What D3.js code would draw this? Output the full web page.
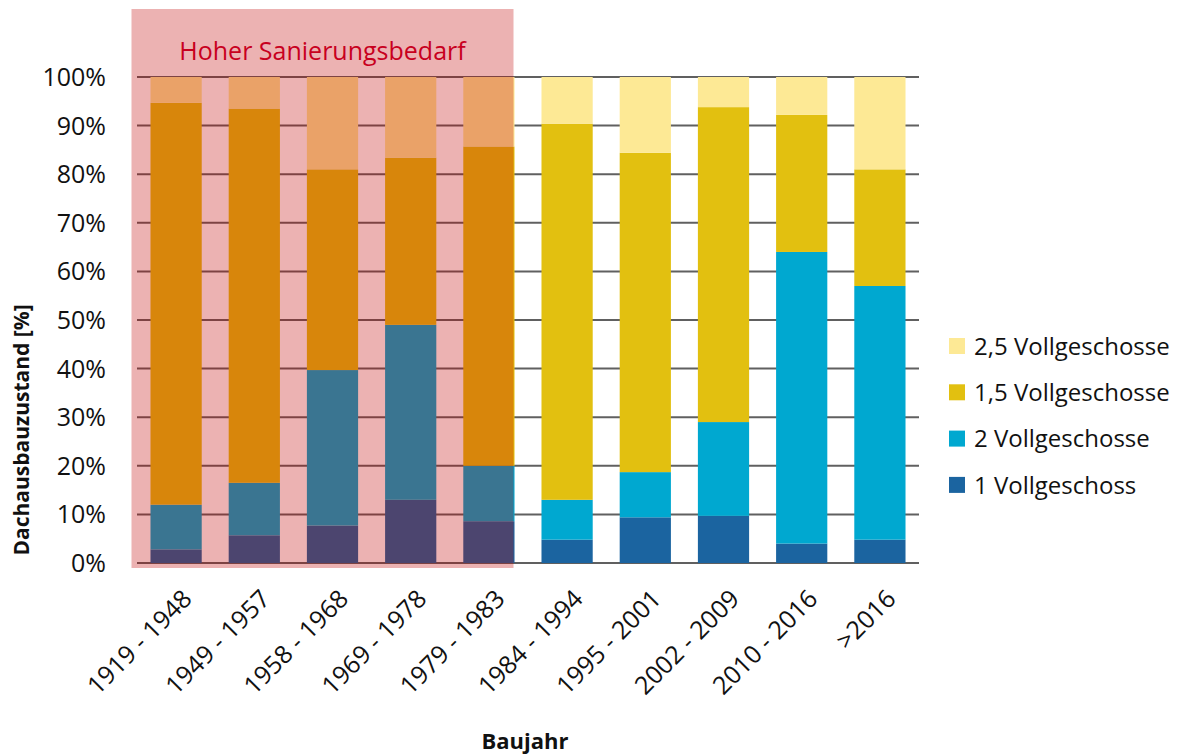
<!DOCTYPE html>
<html>
<head>
<meta charset="utf-8">
<script src="https://cdn.jsdelivr.net/npm/d3@7"></script>
<style>
  body { margin: 0; background: #fff; }
  svg { font-family: "Open Sans", sans-serif; }
</style>
</head>
<body>
<div id="chart"></div>
<script>
// Baujahr classes
const categories = ["1919 - 1948", "1949 - 1957", "1958 - 1968", "1969 - 1978", "1979 - 1983",
                    "1984 - 1994", "1995 - 2001", "2002 - 2009", "2010 - 2016", ">2016"];

// shares in % per class
const vg1  = [2.8, 5.7, 7.7, 13.0, 8.6, 4.8, 9.4, 9.7, 4.0, 4.8];
const vg2  = [9.2, 10.8, 32.0, 36.0, 11.4, 8.2, 9.3, 19.3, 60.0, 52.2];
const vg15 = [82.7, 77.0, 41.3, 34.4, 65.7, 77.4, 65.7, 64.8, 28.2, 24.0];
const vg25 = [5.3, 6.5, 19.0, 16.6, 14.3, 9.6, 15.6, 6.2, 7.8, 19.0];

const seriesNames = ["1 Vollgeschoss", "2 Vollgeschosse", "1,5 Vollgeschosse", "2,5 Vollgeschosse"];
const seriesColors = ["#1b64a0", "#00a8d0", "#e2c010", "#fde995"];
const yTicks = [0, 10, 20, 30, 40, 50, 60, 70, 80, 90, 100];
const highlightCount = 5;   // first five classes: "Hoher Sanierungsbedarf"

const width = 1181, height = 756;

const svg = d3.select("#chart").append("svg")
    .attr("width", width)
    .attr("height", height);

const x = d3.scaleBand()
    .domain(categories)
    .range([137, 919])
    .paddingInner(0.345)
    .paddingOuter(0.1725);

const y = d3.scaleLinear()
    .domain([0, 100])
    .range([563, 77]);

// table for the stack
const table = categories.map((c, i) => ({
  cat: c,
  [seriesNames[0]]: vg1[i],
  [seriesNames[1]]: vg2[i],
  [seriesNames[2]]: vg15[i],
  [seriesNames[3]]: vg25[i]
}));

const stacked = d3.stack().keys(seriesNames)(table);
const color = d3.scaleOrdinal().domain(seriesNames).range(seriesColors);

// gridlines
svg.append("g")
  .selectAll("line")
  .data(yTicks)
  .enter()
  .append("line")
    .attr("x1", 137)
    .attr("x2", 919)
    .attr("y1", d => y(d))
    .attr("y2", d => y(d))
    .attr("stroke", "#606060")
    .attr("stroke-width", 2);

// y tick labels
svg.append("g")
  .selectAll("text")
  .data(yTicks)
  .enter()
  .append("text")
    .attr("x", 106)
    .attr("y", d => y(d))
    .attr("dy", "0.36em")
    .attr("text-anchor", "end")
    .attr("font-size", 25)
    .attr("fill", "#111")
    .text(d => d + "%");

// bars
svg.append("g")
  .selectAll("g")
  .data(stacked)
  .enter()
  .append("g")
    .attr("fill", d => color(d.key))
  .selectAll("rect")
  .data(d => d)
  .enter()
  .append("rect")
    .attr("x", d => x(d.data.cat))
    .attr("y", d => y(d[1]))
    .attr("width", x.bandwidth())
    .attr("height", d => y(d[0]) - y(d[1]));

// highlight overlay
const hx0 = x(categories[0]) - 19;
const hx1 = x(categories[highlightCount - 1]) + x.bandwidth() - 1;
svg.append("rect")
    .attr("x", hx0)
    .attr("y", y(100) - 68)
    .attr("width", hx1 - hx0)
    .attr("height", y(0) - y(100) + 73)
    .attr("fill", "rgb(192,0,0)")
    .attr("fill-opacity", 0.3);

svg.append("text")
    .attr("x", (hx0 + hx1) / 2)
    .attr("y", 60)
    .attr("text-anchor", "middle")
    .attr("font-size", 25)
    .attr("fill", "#c8001e")
    .text("Hoher Sanierungsbedarf");

// x labels
svg.append("g")
  .selectAll("text")
  .data(categories)
  .enter()
  .append("text")
    .attr("transform", d => "translate(" + (x(d) + x.bandwidth() / 2 + 5) + ",588) rotate(-45)")
    .attr("text-anchor", "end")
    .attr("dy", "0.7em")
    .attr("font-size", 25)
    .attr("fill", "#111")
    .text(d => d);

// axis titles
svg.append("text")
    .attr("transform", "translate(29,430) rotate(-90)")
    .attr("text-anchor", "middle")
    .attr("font-size", 21)
    .attr("font-weight", "bold")
    .attr("fill", "#111")
    .text("Dachausbauzustand [%]");

svg.append("text")
    .attr("x", 525)
    .attr("y", 749)
    .attr("text-anchor", "middle")
    .attr("font-size", 22)
    .attr("font-weight", "bold")
    .attr("fill", "#111")
    .text("Baujahr");

// legend (top to bottom reversed stack order)
const legend = svg.append("g")
  .selectAll("g")
  .data(seriesNames.slice().reverse())
  .enter()
  .append("g")
    .attr("transform", (d, i) => "translate(949," + (346 + i * 46.3) + ")");

legend.append("rect")
    .attr("x", 0)
    .attr("y", -8)
    .attr("width", 16)
    .attr("height", 16)
    .attr("fill", d => color(d));

legend.append("text")
    .attr("x", 25)
    .attr("dy", "0.36em")
    .attr("font-size", 24)
    .attr("fill", "#111")
    .text(d => d);
</script>
</body>
</html>
